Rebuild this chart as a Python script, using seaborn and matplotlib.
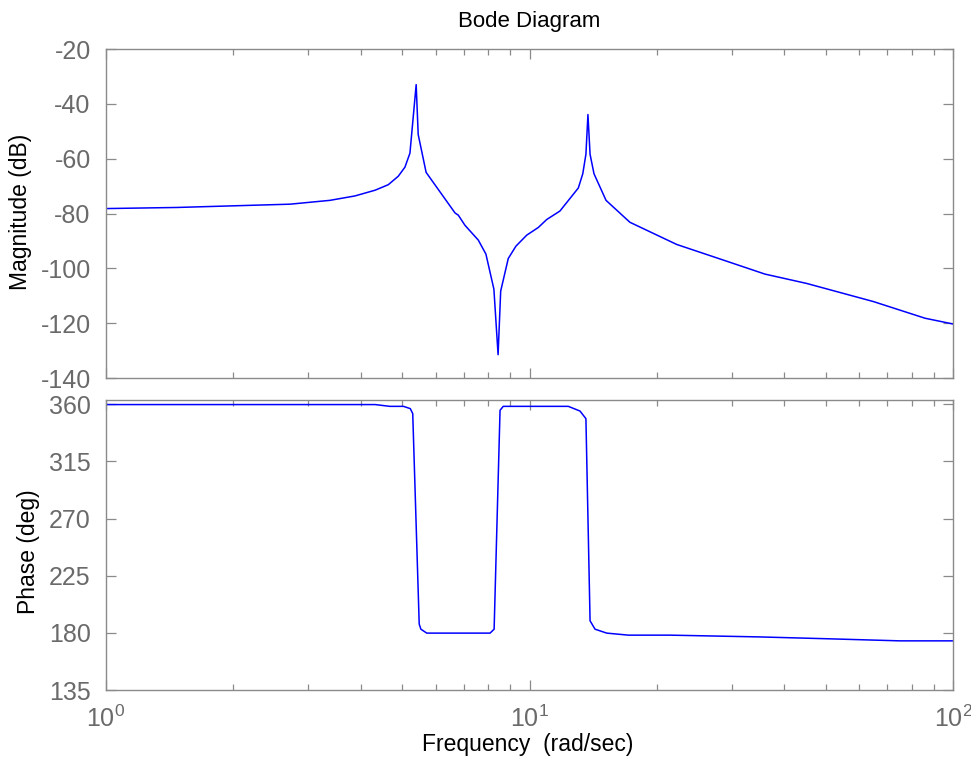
import numpy as np
import pandas as pd
import matplotlib
matplotlib.use("Agg")
import matplotlib.pyplot as plt
from matplotlib.ticker import FixedLocator, NullFormatter, LogLocator
import seaborn as sns

# Magnitude response (rad/s, dB)
freq_mag = [1.0, 1.47, 2.72, 3.38, 3.87, 4.32, 4.64, 4.90, 5.08, 5.22, 5.40,
            5.46, 5.70, 6.67, 6.79, 7.04, 7.57, 7.89, 8.24, 8.43, 8.55, 8.91,
            9.29, 9.85, 10.49, 10.98, 11.8, 13.04, 13.36, 13.59, 13.74, 13.90,
            14.2, 15.16, 17.26, 22.27, 28.7, 35.97, 45.1, 64.8, 85.9, 100.0]
mag_db = [-78.2, -77.8, -76.6, -75.2, -73.6, -71.5, -69.5, -66.4, -63.1, -58.0,
          -33.0, -51.2, -65.0, -79.8, -80.6, -84.3, -89.7, -94.8, -107.6,
          -131.5, -108.3, -96.4, -91.9, -87.9, -85.1, -82.2, -79.1, -70.7,
          -65.5, -58.4, -43.9, -58.4, -65.5, -75.2, -83.2, -91.3, -97.0,
          -102.1, -105.5, -112.1, -118.2, -120.3]

# Phase response (rad/s, deg)
freq_ph = [1.0, 4.32, 4.68, 5.04, 5.23, 5.30, 5.49, 5.54, 5.72, 8.07, 8.25,
           8.52, 8.67, 12.35, 13.16, 13.59, 13.90, 14.28, 15.22, 17.12, 21.47,
           35.0, 51.2, 75.0, 100.0]
phase_deg = [359.8, 359.8, 358.4, 358.4, 356.6, 352.7, 186.9, 182.9, 179.8,
             179.8, 182.9, 355.3, 358.4, 358.4, 354.7, 348.7, 189.5, 182.9,
             179.8, 178.2, 178.2, 176.8, 175.3, 173.7, 173.7]

mag_ticks = [-140, -120, -100, -80, -60, -40, -20]
phase_ticks = [135, 180, 225, 270, 315, 360]
freq_ticks = [1, 10, 100]
freq_ticklabels = [r"$10^{0}$", r"$10^{1}$", r"$10^{2}$"]

sns.set_style("ticks")
plt.rcParams["font.family"] = ["Liberation Sans", "DejaVu Sans"]
plt.rcParams["mathtext.default"] = "regular"

GREY = "#6a6a6a"
SPINE = "#8a8a8a"
LINE = "#0000ff"

fig = plt.figure(figsize=(9.71, 7.70), dpi=100)
ax_mag = fig.add_axes([106 / 971, 1 - 378 / 770, 847 / 971, 329 / 770])
ax_ph = fig.add_axes([106 / 971, 1 - 690 / 770, 847 / 971, 290 / 770])

mag_df = pd.DataFrame({"freq": freq_mag, "mag": mag_db})
ph_df = pd.DataFrame({"freq": freq_ph, "phase": phase_deg})

sns.lineplot(data=mag_df, x="freq", y="mag", ax=ax_mag, color=LINE,
             linewidth=1.1, estimator=None, sort=False)
sns.lineplot(data=ph_df, x="freq", y="phase", ax=ax_ph, color=LINE,
             linewidth=1.1, estimator=None, sort=False)

for ax in (ax_mag, ax_ph):
    ax.set_xscale("log")
    ax.set_xlim(1, 100)
    ax.set_xlabel("")
    ax.set_ylabel("")
    ax.xaxis.set_major_locator(FixedLocator(freq_ticks))
    ax.xaxis.set_minor_locator(LogLocator(base=10, subs=np.arange(2, 10)))
    ax.xaxis.set_minor_formatter(NullFormatter())
    for s in ax.spines.values():
        s.set_color(SPINE)
        s.set_linewidth(1.0)
        s.set_visible(True)
    ax.tick_params(which="both", direction="in", top=True, right=True,
                   color=SPINE, labelcolor=GREY, width=0.9)
    ax.tick_params(which="major", length=7)
    ax.tick_params(which="minor", length=4.5)
    ax.tick_params(axis="y", labelsize=18, pad=11)
    ax.set_facecolor("white")

ax_mag.set_ylim(-140, -20)
ax_mag.set_yticks(mag_ticks)
ax_mag.set_yticklabels([str(t) for t in mag_ticks])
ax_mag.tick_params(axis="x", labelbottom=False)

ax_ph.set_ylim(135, 363.4)
ax_ph.set_yticks(phase_ticks)
ax_ph.set_yticklabels([str(t) for t in phase_ticks])
ax_ph.set_xticks(freq_ticks)
ax_ph.set_xticklabels(freq_ticklabels)
ax_ph.tick_params(axis="x", labelsize=18, pad=11)

fig.text(529 / 971, 1 - 22 / 770, "Bode Diagram", ha="center", va="center",
         fontsize=16, color="black")
fig.text(528 / 971, 1 - 744 / 770, "Frequency  (rad/sec)", ha="center",
         va="center", fontsize=16.5, color="black")
fig.text(21 / 971, 1 - 212 / 770, "Magnitude (dB)", ha="center", va="center",
         rotation=90, fontsize=16.5, color="black")
fig.text(29 / 971, 1 - 552 / 770, "Phase (deg)", ha="center", va="center",
         rotation=90, fontsize=16.5, color="black")

fig.savefig("out.png", dpi=100, facecolor="white")
